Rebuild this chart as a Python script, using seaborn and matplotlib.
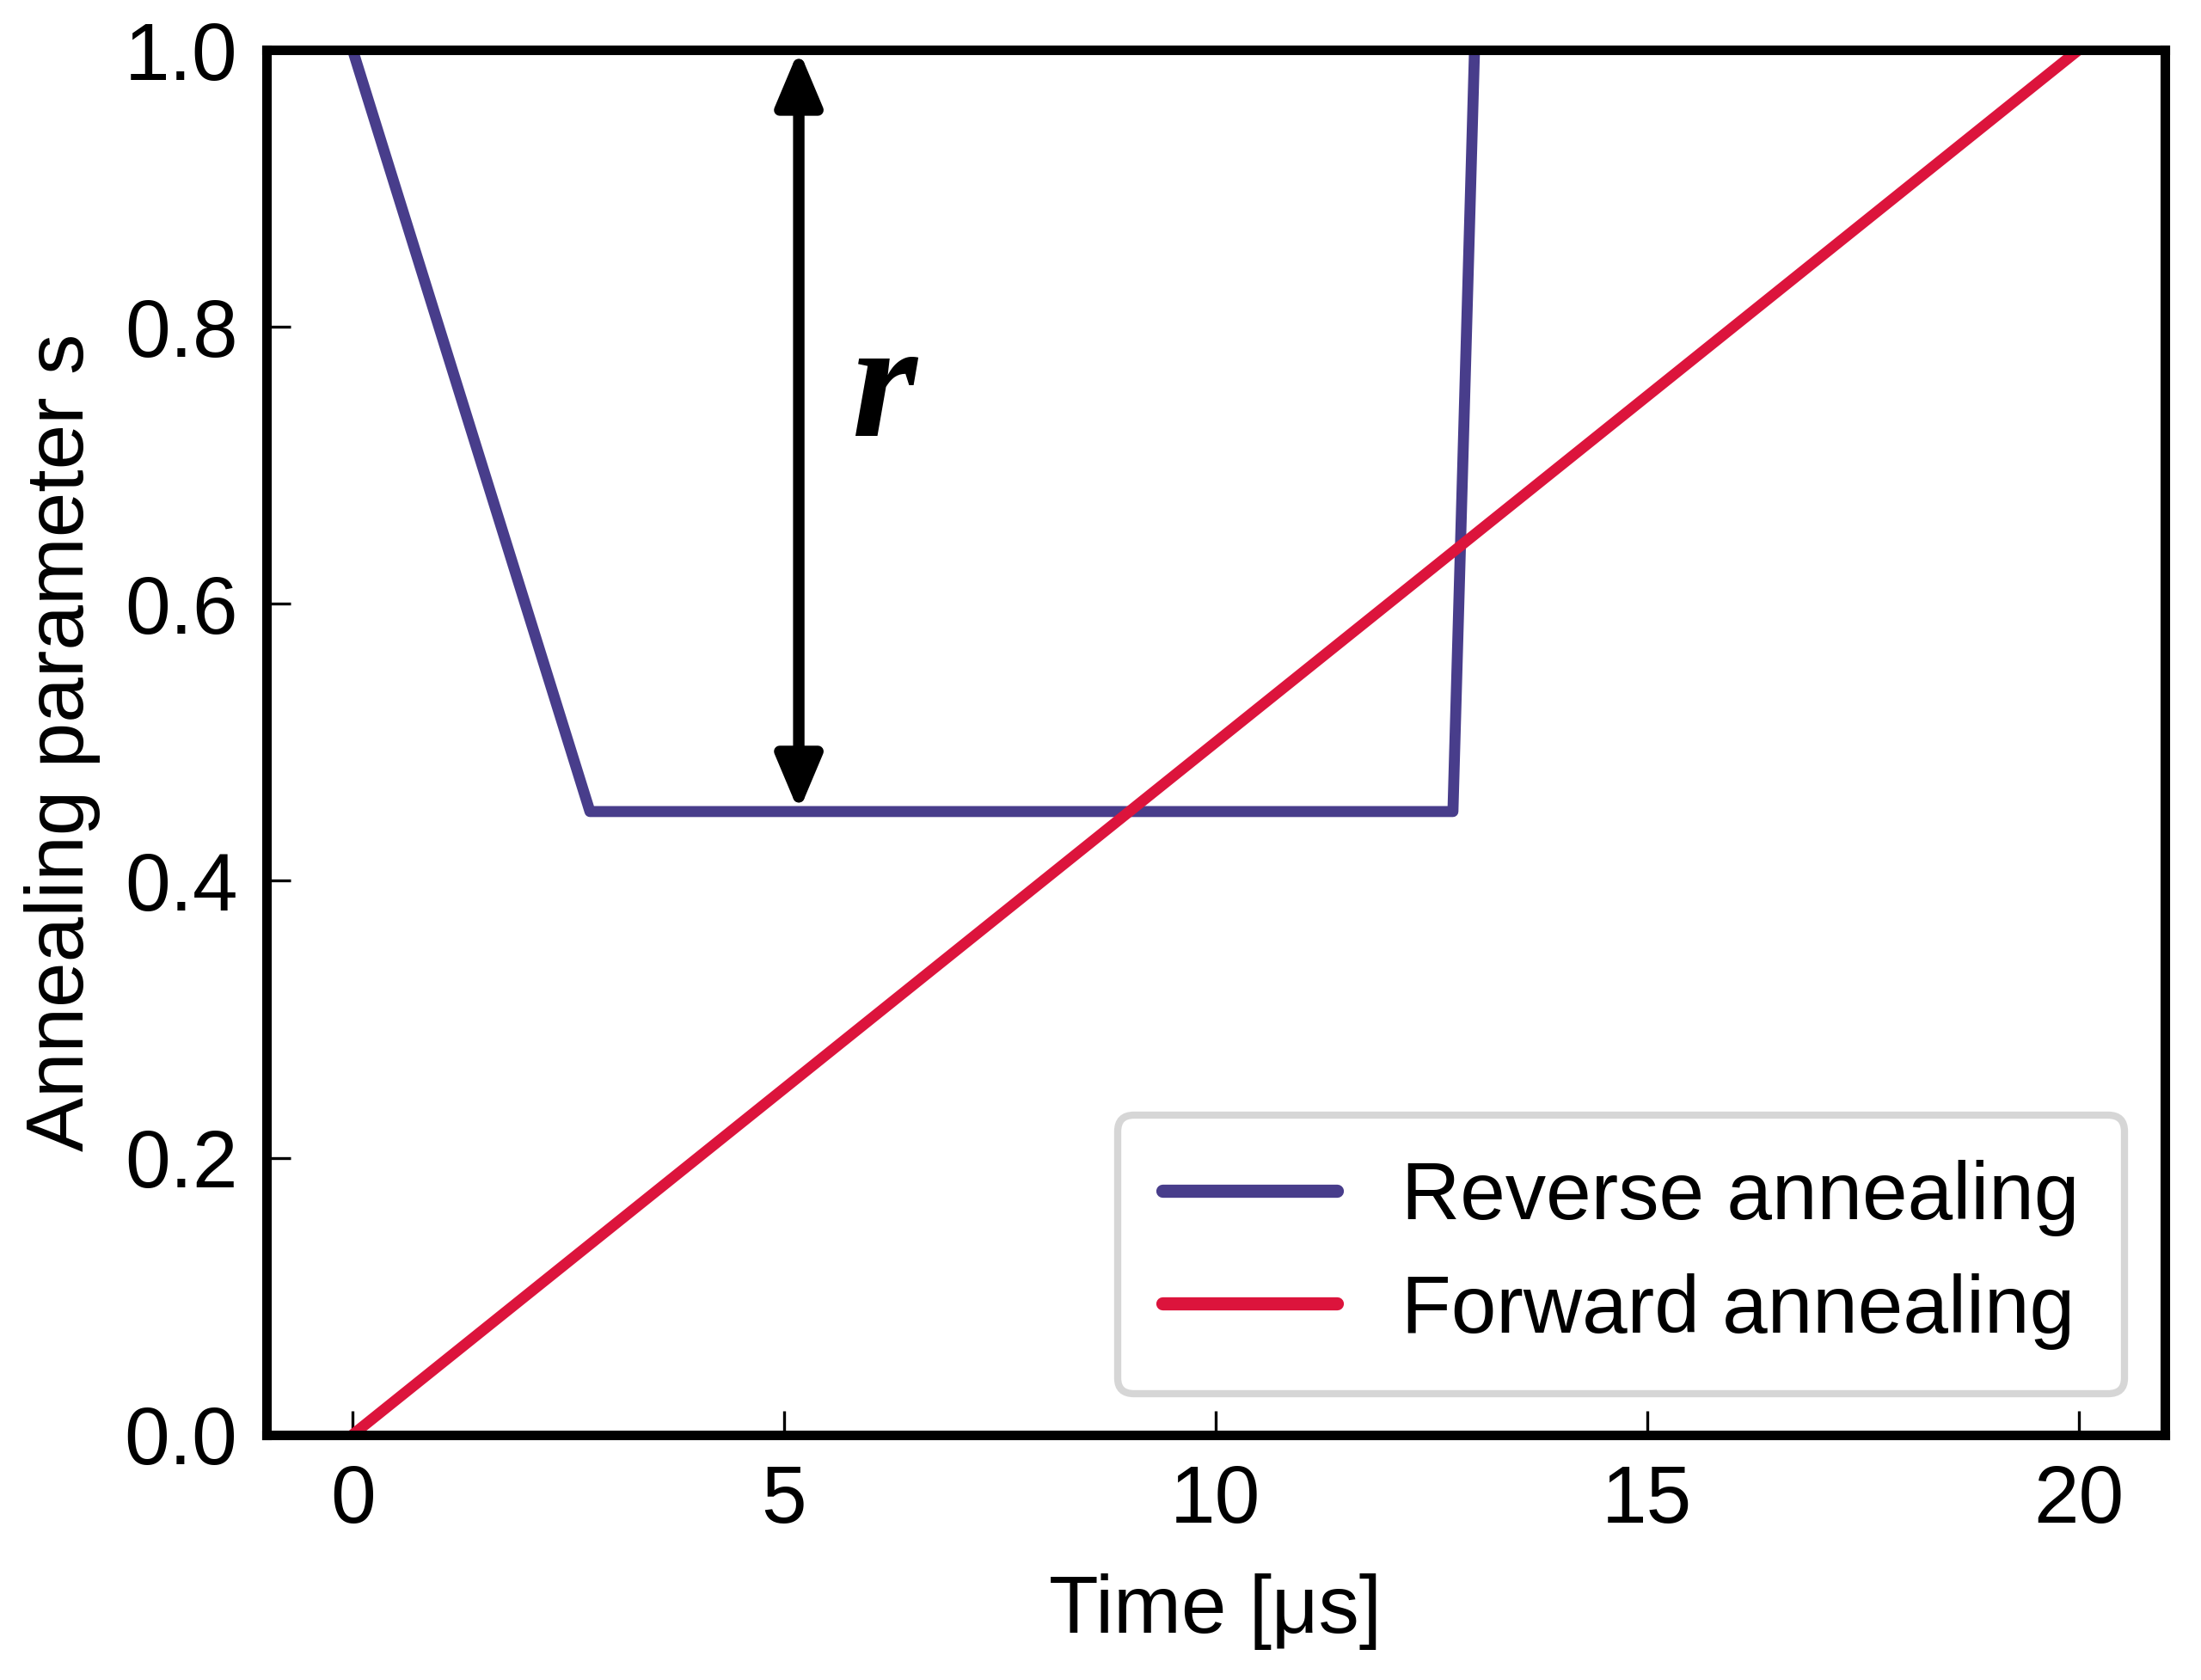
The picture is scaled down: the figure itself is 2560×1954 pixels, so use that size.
import matplotlib
matplotlib.use("Agg")
import matplotlib.pyplot as plt
import seaborn as sns
import pandas as pd

# Data
reverse_t = [0.0, 2.75, 12.75, 13.0]
reverse_s = [1.0, 0.45, 0.45, 1.0]
forward_t = [0.0, 20.0]
forward_s = [0.0, 1.0]
series_names = ["Reverse annealing", "Forward annealing"]
series_colors = ["#483D8B", "#DC143C"]
x_ticks = [0, 5, 10, 15, 20]
y_ticks = [0.0, 0.2, 0.4, 0.6, 0.8, 1.0]
arrow_t = 5.17
arrow_s = (0.45, 1.0)

sns.set_theme(style="ticks")
plt.rcParams["font.family"] = ["Liberation Sans", "DejaVu Sans"]
plt.rcParams["text.color"] = "black"
plt.rcParams["axes.labelcolor"] = "black"
plt.rcParams["xtick.color"] = "black"
plt.rcParams["ytick.color"] = "black"

df = pd.concat([
    pd.DataFrame({"t": reverse_t, "s": reverse_s, "kind": series_names[0]}),
    pd.DataFrame({"t": forward_t, "s": forward_s, "kind": series_names[1]}),
], ignore_index=True)

fig = plt.figure(figsize=(12.8, 9.77), dpi=200)
ax = fig.add_axes([0.121, 0.146, 0.8626, 0.8243])

sns.lineplot(data=df, x="t", y="s", hue="kind", palette=series_colors,
             hue_order=series_names, sort=False, estimator=None,
             linewidth=4.6, ax=ax)

ax.set_xlim(-1, 21)
ax.set_ylim(0, 1)
ax.set_xticks(x_ticks)
ax.set_yticks(y_ticks)
ax.set_yticklabels([f"{v:.1f}" for v in y_ticks])
ax.tick_params(direction="in", length=10, width=1.2, labelsize=34, pad=12,
               colors="black", labelcolor="black")
for sp in ax.spines.values():
    sp.set_linewidth(4)
    sp.set_color("black")
    sp.set_visible(True)

ax.set_xlabel("Time [μs]", fontsize=34, labelpad=14, color="black")
ax.set_ylabel("Annealing parameter s", fontsize=34, labelpad=10, color="black")

ax.annotate("", xy=(arrow_t, arrow_s[0]), xytext=(arrow_t, arrow_s[1]),
            arrowprops=dict(arrowstyle="<|-|>,head_length=0.95,head_width=0.4",
                            mutation_scale=20, lw=4.8, color="black",
                            shrinkA=0, shrinkB=0))
ax.text(6.15, 0.75, "r", fontsize=70, fontstyle="italic", fontweight="bold",
        family=["Liberation Serif", "DejaVu Serif"], ha="center", va="center",
        color="black")

leg = ax.legend(loc="lower right", fontsize=34, frameon=True, fancybox=True,
                handlelength=2.15, handletextpad=0.8, labelspacing=0.45,
                borderpad=0.55)
leg.get_frame().set_edgecolor("#cccccc")
leg.get_frame().set_linewidth(3)
for t in leg.get_texts():
    t.set_color("black")
for h in leg.get_lines():
    h.set_linewidth(5.5)

fig.savefig("out.png", dpi=200)
